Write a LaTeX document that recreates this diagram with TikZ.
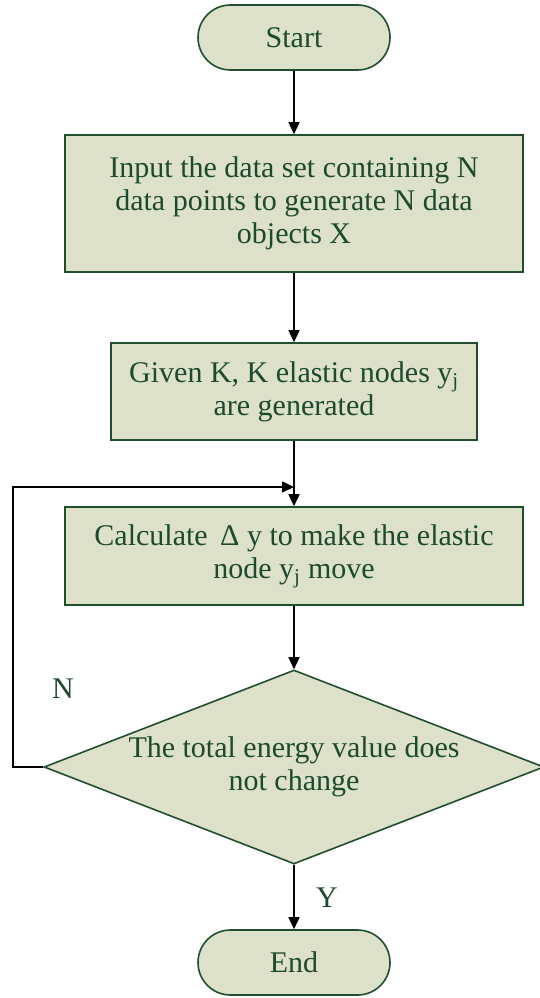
\documentclass[tikz,border=0pt]{standalone}
\usepackage{fontspec}
\setmainfont{Liberation Serif}
\usepackage{xcolor}
\usepackage{tikz}
\usetikzlibrary{arrows.meta, positioning, shapes.geometric, shapes.misc}
\definecolor{boxfill}{HTML}{DDE1CA}
\definecolor{boxline}{HTML}{1F4F30}
\definecolor{boxtext}{HTML}{1D4A2F}

\begin{document}
\begin{tikzpicture}[x=1pt, y=-1pt, >={Triangle[length=12pt, width=11pt]},
  font=\fontsize{30}{33}\selectfont,
  base/.style={draw=boxline, line width=1.6pt, fill=boxfill, text=boxtext, align=center},
  terminal/.style={base, rounded rectangle, minimum width=192pt, minimum height=65pt, inner sep=0pt},
  process/.style={base, rectangle, inner xsep=18pt, inner ysep=0pt},
  decision/.style={base, diamond, aspect=2.58, minimum width=500pt, minimum height=194pt, inner sep=-6pt},
  flow/.style={->, line width=1.6pt},
  mark label/.style={text=boxtext}]
  \useasboundingbox (0,0) rectangle (539,998);
  \node[terminal] (start) at (294,37.5) {Start};
  \node[process, minimum width=458pt, minimum height=137pt] (input) at (294,203.5)
    {Input the data set containing N\\data points to generate N data\\objects X};
  \node[process, minimum height=97pt] (given) at (294,391.5)
    {Given K, K elastic nodes y\textsubscript{j}\\are generated};
  \node[process, minimum width=458pt, minimum height=98pt] (calc) at (294,556)
    {Calculate \,Δ y to make the elastic\\node y\textsubscript{j} move};
  \node[decision] (check) at (294,767) {The total energy value does\\not change};
  \node[terminal] (end) at (294,962.5) {End};
  \coordinate (merge) at (294,487);
  \draw[flow] (start) -- (input);
  \draw[flow] (input) -- (given);
  \draw[flow] (given) -- (calc);
  \draw[flow] (calc) -- (check);
  \draw[flow] (check) -- (end);
  \draw[flow] (check.west) -- ++(-30,0) |- (merge);
  \node[mark label] (nlabel) at (63,689) {N};
  \node[mark label] (ylabel) at (327,898) {Y};
\end{tikzpicture}
\end{document}
